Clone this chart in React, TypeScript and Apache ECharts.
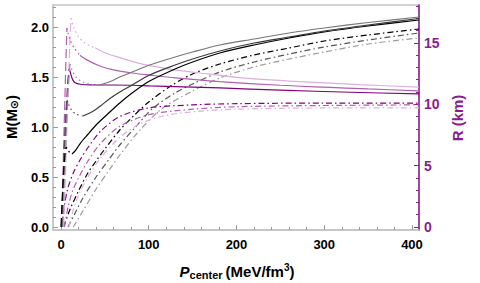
import React, { useEffect, useRef } from 'react';
import * as echarts from 'echarts';

type Pt = [number, number];

// tick labels
const xTickLabels = [0, 100, 200, 300, 400];
const mTickLabels = [0, 0.5, 1.0, 1.5, 2.0];
const rTickLabels = [0, 5, 10, 15];

// ---- Mass curves (M_sun) vs central pressure (MeV/fm^3) ----
// black family
const mBlackRise: Pt[] = [[0, 0], [1.5, 0.3], [3, 0.55], [4.5, 0.72], [6, 0.8]];
const mBlackUnstable: Pt[] = [[6, 0.8], [8, 0.77], [10, 0.745], [12.5, 0.73]];
const mBlackStable: Pt[] = [[12.5, 0.73], [16, 0.76], [20, 0.81], [25, 0.87], [30, 0.92], [40, 1.02], [52, 1.12], [67, 1.24], [81, 1.34], [101, 1.46], [130, 1.58], [150, 1.65], [181, 1.74], [220, 1.82], [260, 1.89], [300, 1.95], [350, 2.01], [408, 2.07]];
// dark gray family
const mDarkRise: Pt[] = [[1, 0], [2.5, 0.45], [4, 0.8], [5.5, 1.1], [7, 1.27]];
const mDarkUnstable: Pt[] = [[7, 1.27], [9, 1.22], [12, 1.17], [17, 1.13], [25, 1.11]];
const mDarkStable: Pt[] = [[25, 1.11], [35, 1.15], [45, 1.21], [55, 1.28], [67, 1.35], [81, 1.42], [101, 1.52], [130, 1.62], [150, 1.68], [181, 1.76], [220, 1.84], [260, 1.9], [300, 1.96], [350, 2.02], [408, 2.085]];
// light gray family
const mLightRise: Pt[] = [[2, 0], [4, 0.5], [6, 0.95], [8, 1.35], [10.3, 1.63]];
const mLightUnstable: Pt[] = [[10.3, 1.63], [13, 1.56], [18, 1.49], [25, 1.45], [35, 1.425], [44, 1.42]];
const mLightStable: Pt[] = [[44, 1.42], [55, 1.45], [67, 1.5], [81, 1.55], [101, 1.62], [130, 1.7], [150, 1.75], [181, 1.82], [220, 1.88], [260, 1.94], [300, 1.99], [350, 2.045], [408, 2.1]];
// dash-dot mass curves
const mBlackDD: Pt[] = [[3, 0], [10, 0.17], [20, 0.36], [30, 0.53], [40, 0.66], [50, 0.78], [67, 0.97], [85, 1.13], [100, 1.25], [125, 1.41], [150, 1.53], [181, 1.63], [220, 1.72], [260, 1.79], [300, 1.86], [350, 1.92], [408, 1.98]];
const mGrayDD: Pt[] = [[8, 0], [15, 0.12], [25, 0.29], [40, 0.5], [55, 0.68], [67, 0.82], [85, 1.0], [105, 1.19], [130, 1.34], [150, 1.43], [181, 1.55], [220, 1.65], [260, 1.73], [300, 1.8], [350, 1.87], [408, 1.94]];
const mLightDD: Pt[] = [[14, 0], [25, 0.16], [40, 0.38], [55, 0.57], [67, 0.72], [90, 0.97], [116, 1.19], [150, 1.36], [181, 1.49], [220, 1.6], [260, 1.68], [300, 1.75], [350, 1.83], [408, 1.89]];

// ---- Radius curves (km) vs central pressure ----
const rDarkRise: Pt[] = [[0.5, 0], [2, 3], [4, 6.5], [6, 9.5], [8, 12], [9.5, 12.9]];
const rDarkStable: Pt[] = [[9.5, 12.9], [11, 12.5], [13, 12.05], [16, 11.75], [22, 11.63], [33, 11.58], [60, 11.57], [81, 11.55], [101, 11.5], [140, 11.42], [181, 11.33], [250, 11.15], [330, 10.98], [408, 10.84]];
const rMedRise: Pt[] = [[1, 0], [2, 3], [3, 6.5], [4.5, 10.5], [5.8, 14], [6.8, 16.2]];
const rMedUnstable: Pt[] = [[6.8, 16.2], [10, 15.3], [15, 14.6], [21.6, 14.0]];
const rMedStable: Pt[] = [[21.6, 14.0], [30, 13.6], [45, 13.1], [60, 12.8], [81, 12.55], [101, 12.38], [130, 12.15], [181, 11.85], [250, 11.55], [300, 11.4], [350, 11.25], [408, 11.1]];
const rLightRise: Pt[] = [[3, 0], [5, 4], [6.8, 8], [8.4, 11.5], [10, 14.8], [11.4, 17.0]];
const rLightUnstable: Pt[] = [[11.4, 17.0], [15, 16.2], [20, 15.5], [28, 14.95], [39, 14.6]];
const rLightStable: Pt[] = [[39, 14.6], [50, 14.2], [67, 13.8], [81, 13.5], [101, 13.15], [130, 12.8], [158, 12.55], [200, 12.2], [272, 11.85], [340, 11.6], [408, 11.4]];
// dash-dot radius curves
const rDarkDD: Pt[] = [[1, 0], [4, 1.8], [8, 3.2], [14, 4.4], [22, 5.5], [32, 6.6], [45, 7.8], [67, 9.0], [100, 9.7], [150, 9.95], [200, 10.05], [300, 10.1], [408, 10.1]];
const rMedDD: Pt[] = [[4, 0], [8, 1.6], [13, 2.9], [20, 4.0], [30, 5.3], [45, 6.8], [67, 8.2], [100, 9.15], [150, 9.6], [200, 9.8], [300, 9.9], [408, 9.95]];
const rLightDD: Pt[] = [[9, 0], [14, 1.4], [20, 2.6], [30, 4.0], [45, 5.6], [67, 7.3], [90, 8.4], [120, 9.1], [160, 9.45], [200, 9.6], [300, 9.7], [408, 9.7]];

const PURPLE_AXIS = '#8b1c8b';
const FONT = '"Liberation Sans", Arial, sans-serif';
const C = {
  black: '#000000', dgray: '#555555', lgray: '#9a9a9a',
  dpur: '#800080', mpur: '#b060b0', lpur: '#dcb0dc',
};
const LONG_DASH = [9, 4];
const DOTTED = [1.6, 3];
const DASH_DOT = [6, 3, 1.5, 3];

function line(data: Pt[], yAxisIndex: number, color: string, type: any) {
  return {
    type: 'line', data, xAxisIndex: 0, yAxisIndex, showSymbol: false, symbol: 'none',
    smooth: 0.3, silent: true,
    lineStyle: { color, width: 1.2, type },
  };
}

export default function App() {
  const ref = useRef<HTMLDivElement>(null);
  useEffect(() => {
    document.body.style.margin = '0';
    const chart = echarts.init(ref.current!, null, { renderer: 'svg' });
    const xMin = -9.1, xMax = 408;
    const mMin = -0.03, mMax = 2.22;
    const rMin = -0.2445, rMax = 18.09;
    const xMinor: number[] = [];
    for (let v = 20; v <= 400; v += 20) if (v % 100 !== 0) xMinor.push(v);
    const mMinor: number[] = [];
    for (let i = 1; i <= 22; i++) if (i % 5 !== 0) mMinor.push(i / 10);
    const rMinor: number[] = [];
    for (let i = 1; i <= 18; i++) if (i % 5 !== 0) rMinor.push(i);
    const labelStyle = { fontFamily: FONT, fontWeight: 'bold' as const, fontSize: 13 };
    const gray = '#c4c4c4';
    const option: any = {
      animation: false,
      grid: { left: 53, right: 61, top: 5, bottom: 53, show: true, borderColor: gray, borderWidth: 1.5 },
      xAxis: [
        {
          type: 'value', min: xMin, max: xMax, position: 'bottom',
          axisLine: { show: true, onZero: false, lineStyle: { color: gray, width: 1.5 } },
          axisTick: { show: true, inside: true, length: 5, customValues: xTickLabels, lineStyle: { color: '#999' } },
          axisLabel: { ...labelStyle, color: '#000', margin: 8, customValues: xTickLabels },
          splitLine: { show: false },
        },
        {
          type: 'value', min: xMin, max: xMax, position: 'bottom',
          axisLine: { show: false, onZero: false },
          axisTick: { show: true, inside: true, length: 3, customValues: xMinor, lineStyle: { color: '#999' } },
          axisLabel: { show: false },
          splitLine: { show: false },
        },
      ],
      yAxis: [
        {
          type: 'value', min: mMin, max: mMax, position: 'left',
          axisLine: { show: true, onZero: false, lineStyle: { color: gray, width: 1.5 } },
          axisTick: { show: true, inside: true, length: 5, customValues: mTickLabels, lineStyle: { color: '#999' } },
          axisLabel: { ...labelStyle, color: '#000', margin: 4, customValues: mTickLabels, formatter: (v: number) => v.toFixed(1) },
          splitLine: { show: false },
        },
        {
          type: 'value', min: rMin, max: rMax, position: 'right',
          axisLine: { show: true, onZero: false, lineStyle: { color: PURPLE_AXIS, width: 1.5 } },
          axisTick: { show: true, inside: true, length: 5, customValues: rTickLabels, lineStyle: { color: PURPLE_AXIS } },
          axisLabel: { ...labelStyle, fontSize: 14, color: PURPLE_AXIS, margin: 5, customValues: rTickLabels },
          splitLine: { show: false },
        },
        {
          type: 'value', min: mMin, max: mMax, position: 'left',
          axisLine: { show: false, onZero: false },
          axisTick: { show: true, inside: true, length: 3, customValues: mMinor, lineStyle: { color: '#999' } },
          axisLabel: { show: false }, splitLine: { show: false },
        },
        {
          type: 'value', min: rMin, max: rMax, position: 'right',
          axisLine: { show: false, onZero: false },
          axisTick: { show: true, inside: true, length: 3, customValues: rMinor, lineStyle: { color: PURPLE_AXIS } },
          axisLabel: { show: false }, splitLine: { show: false },
        },
      ],
      series: [
        line(mLightDD, 0, C.lgray, DASH_DOT),
        line(mGrayDD, 0, C.dgray, DASH_DOT),
        line(mBlackDD, 0, C.black, DASH_DOT),
        line(rLightDD, 1, C.lpur, DASH_DOT),
        line(rMedDD, 1, C.mpur, DASH_DOT),
        line(rDarkDD, 1, C.dpur, DASH_DOT),
        line(rLightRise, 1, C.lpur, LONG_DASH),
        line(rLightUnstable, 1, C.lpur, DOTTED),
        line(rLightStable, 1, C.lpur, 'solid'),
        line(rMedRise, 1, C.mpur, LONG_DASH),
        line(rMedUnstable, 1, C.mpur, DOTTED),
        line(rMedStable, 1, C.mpur, 'solid'),
        line(rDarkRise, 1, C.dpur, LONG_DASH),
        line(rDarkStable, 1, C.dpur, 'solid'),
        line(mLightRise, 0, C.lgray, LONG_DASH),
        line(mLightUnstable, 0, C.lgray, DOTTED),
        line(mLightStable, 0, '#777777', 'solid'),
        line(mDarkRise, 0, C.dgray, LONG_DASH),
        line(mDarkUnstable, 0, C.dgray, DOTTED),
        line(mDarkStable, 0, '#3a3a3a', 'solid'),
        line(mBlackRise, 0, C.black, LONG_DASH),
        line(mBlackUnstable, 0, C.black, DOTTED),
        line(mBlackStable, 0, C.black, 'solid'),
      ],
      graphic: [
        {
          type: 'text', x: 11, y: 117, rotation: Math.PI / 2,
          style: {
            text: '{a|M(M}{s|⊙}{a|)}', align: 'center', verticalAlign: 'middle',
            rich: {
              a: { fontFamily: FONT, fontWeight: 'bold', fontSize: 15, fill: '#000', lineHeight: 18, verticalAlign: 'middle' },
              s: { fontFamily: '"DejaVu Sans", sans-serif', fontWeight: 'bold', fontSize: 11, fill: '#000', lineHeight: 12, verticalAlign: 'bottom' },
            },
          },
        },
        {
          type: 'text', x: 457, y: 118, rotation: Math.PI / 2,
          style: {
            text: 'R (km)', align: 'center', verticalAlign: 'middle',
            fontFamily: FONT, fontWeight: 'bold', fontSize: 15, fill: PURPLE_AXIS,
          },
        },
        {
          type: 'text', x: 237, y: 271,
          style: {
            text: '{p|P}{s|center }{n|(MeV/fm}{u|3}{n|)}', align: 'center', verticalAlign: 'middle',
            rich: {
              p: { fontFamily: FONT, fontWeight: 'bold', fontStyle: 'italic', fontSize: 15, fill: '#000', lineHeight: 18, verticalAlign: 'middle' },
              n: { fontFamily: FONT, fontWeight: 'bold', fontSize: 15, fill: '#000', lineHeight: 18, verticalAlign: 'middle' },
              s: { fontFamily: FONT, fontWeight: 'bold', fontSize: 11, fill: '#000', lineHeight: 12, verticalAlign: 'bottom' },
              u: { fontFamily: FONT, fontWeight: 'bold', fontSize: 10, fill: '#000', lineHeight: 11, verticalAlign: 'top' },
            },
          },
        },
      ],
    };
    chart.setOption(option);
    return () => chart.dispose();
  }, []);
  return <div ref={ref} style={{ width: 480, height: 283, position: 'absolute', left: 0, top: 0 }} />;
}
